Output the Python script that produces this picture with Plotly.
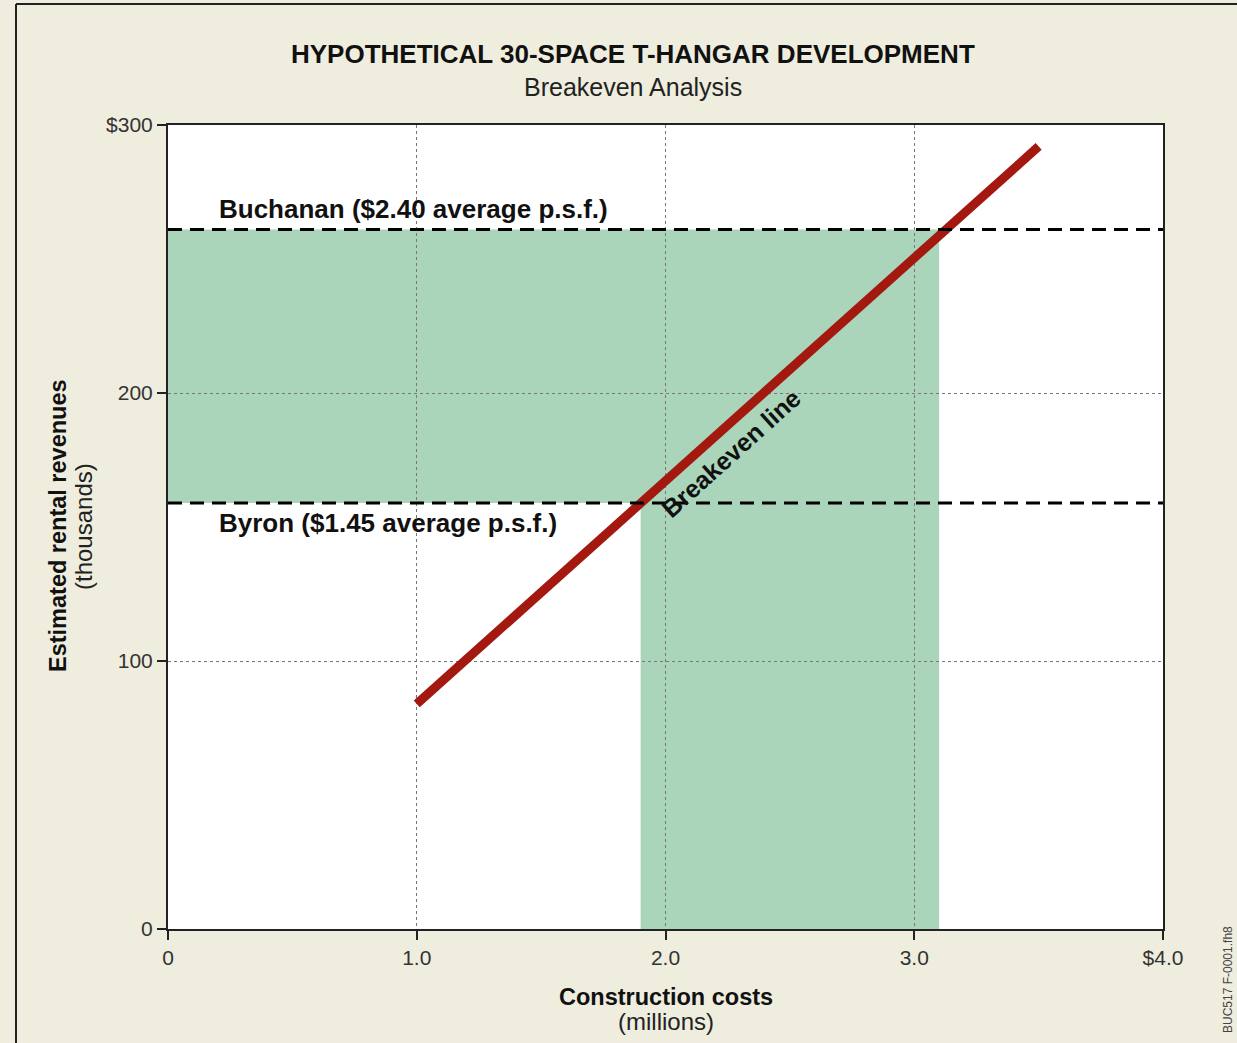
import plotly.graph_objects as go

# ---- data ----
x_ticks = [0, 1, 2, 3, 4]
x_tick_labels = ["0", "1.0", "2.0", "3.0", "$4.0"]
y_ticks = [0, 100, 200, 300]
y_tick_labels = ["0", "100", "200", "$300"]

breakeven_x = [1.0, 3.5]
breakeven_y = [84, 292]

buchanan_rev = 261
byron_rev = 159
zone_cost_min = 1.9
zone_cost_max = 3.1

FONT = "Liberation Sans, Arial, Helvetica, sans-serif"
GREEN = "#aad5bb"
RED = "#a3180f"
BG = "#efedde"

W, H = 1237, 1043
L, R, T, B = 168, 74, 125, 114
pw, ph = W - L - R, H - T - B


def px(xp):
    return (xp - L) / pw


def py(yp):
    return (H - B - yp) / ph


fig = go.Figure()

# breakeven line
fig.add_trace(go.Scatter(
    x=breakeven_x, y=breakeven_y, mode="lines",
    line=dict(color=RED, width=9), showlegend=False,
))

# dashed revenue lines
for yv in (buchanan_rev, byron_rev):
    fig.add_trace(go.Scatter(
        x=[0, 4], y=[yv, yv], mode="lines",
        line=dict(color="black", width=3, dash="14px,8px"), showlegend=False,
    ))

# shaded feasible zone (union of band + column), drawn below gridlines
zone_pts = [(0, byron_rev), (0, buchanan_rev), (zone_cost_max, buchanan_rev), (zone_cost_max, 0),
            (zone_cost_min, 0), (zone_cost_min, byron_rev)]
zone_path = "M " + " L ".join(f"{a},{b}" for a, b in zone_pts) + " Z"

ann = []
ann.append(dict(x=0.197, y=268.5, xref="x", yref="y", text="<b>Buchanan ($2.40 average p.s.f.)</b>",
                showarrow=False, xanchor="left", yanchor="middle", font=dict(size=26, color="#111", family=FONT)))
ann.append(dict(x=0.197, y=151.5, xref="x", yref="y", text="<b>Byron ($1.45 average p.s.f.)</b>",
                showarrow=False, xanchor="left", yanchor="middle", font=dict(size=26, color="#111", family=FONT)))
ann.append(dict(x=2.265, y=177.5, xref="x", yref="y", text="<b>Breakeven line</b>", textangle=-42,
                showarrow=False, xanchor="center", yanchor="middle", font=dict(size=25, color="#111", family=FONT)))

# titles
ann.append(dict(x=px(633), y=py(54), xref="paper", yref="paper", text="<b>HYPOTHETICAL 30-SPACE T-HANGAR DEVELOPMENT</b>",
                showarrow=False, xanchor="center", yanchor="middle", font=dict(size=26, color="#111", family=FONT)))
ann.append(dict(x=px(633), y=py(87), xref="paper", yref="paper", text="Breakeven Analysis",
                showarrow=False, xanchor="center", yanchor="middle", font=dict(size=25, color="#222", family=FONT)))
# axis titles
ann.append(dict(x=px(666), y=py(997), xref="paper", yref="paper", text="<b>Construction costs</b>",
                showarrow=False, xanchor="center", yanchor="middle", font=dict(size=23.5, color="#111", family=FONT)))
ann.append(dict(x=px(666), y=py(1021), xref="paper", yref="paper", text="(millions)",
                showarrow=False, xanchor="center", yanchor="middle", font=dict(size=24, color="#222", family=FONT)))
ann.append(dict(x=px(58), y=py(526), xref="paper", yref="paper", text="<b>Estimated rental revenues</b>", textangle=-90,
                showarrow=False, xanchor="center", yanchor="middle", font=dict(size=23.5, color="#111", family=FONT)))
ann.append(dict(x=px(83), y=py(527), xref="paper", yref="paper", text="(thousands)", textangle=-90,
                showarrow=False, xanchor="center", yanchor="middle", font=dict(size=24, color="#222", family=FONT)))
ann.append(dict(x=px(1228), y=py(980), xref="paper", yref="paper", text="BUC517 F-0001.fh8", textangle=-90,
                showarrow=False, xanchor="center", yanchor="middle", font=dict(size=12, color="#444", family=FONT)))

shapes = [
    dict(type="path", xref="x", yref="y", path=zone_path, fillcolor=GREEN, line=dict(width=0), layer="below"),
    dict(type="line", xref="paper", yref="paper", x0=px(16), x1=px(16), y0=py(4), y1=py(H + 20),
         line=dict(color="#222", width=2)),
    dict(type="line", xref="paper", yref="paper", x0=px(16), x1=px(W + 20), y0=py(4), y1=py(4),
         line=dict(color="#222", width=2)),
]

fig.update_layout(
    width=W, height=H,
    margin=dict(l=L, r=R, t=T, b=B),
    paper_bgcolor=BG, plot_bgcolor="white",
    annotations=ann, shapes=shapes,
    font=dict(family=FONT, size=21, color="#333"),
)
axis_style = dict(showline=True, mirror=True, linecolor="#222", linewidth=2,
                  ticks="outside", ticklen=9, tickwidth=2, tickcolor="#222",
                  showgrid=True, gridcolor="#777", griddash="dot", gridwidth=1.2,
                  zeroline=False, tickfont=dict(size=21, color="#333", family=FONT))
fig.update_xaxes(range=[0, 4], tickvals=x_ticks, ticktext=x_tick_labels, **axis_style)
fig.update_yaxes(range=[0, 300], tickvals=y_ticks, ticktext=y_tick_labels, **axis_style)

fig.write_html("out.html", config={"displayModeBar": False},
               post_script="document.body.style.margin='0';document.body.style.overflow='hidden';")
